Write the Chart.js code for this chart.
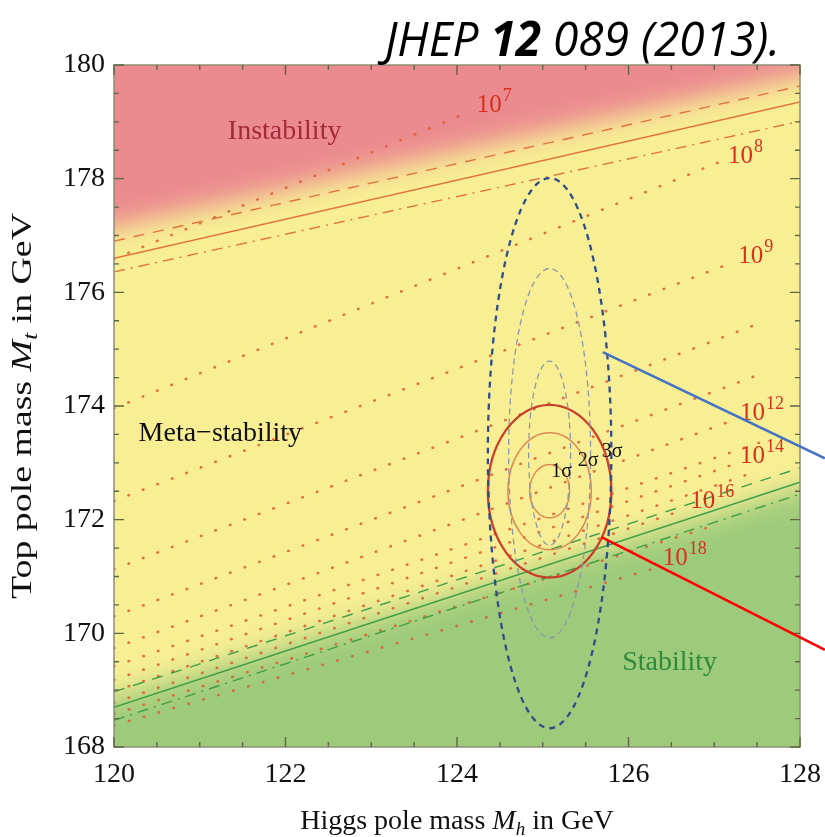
<!DOCTYPE html>
<html>
<head>
<meta charset="utf-8">
<script src="https://cdn.jsdelivr.net/npm/chart.js@4/dist/chart.umd.min.js"></script>
<style>
  html, body { margin: 0; padding: 0; background: #ffffff; }
  #wrap { width: 825px; height: 837px; position: relative; }
</style>
</head>
<body>
<div id="wrap"><canvas id="c" width="825" height="837"></canvas></div>
<script>
// ---- axis ranges and ticks (GeV) ----
const mhRange = [120, 128];
const mtRange = [168, 180];
const mhMajorTicks = [120, 122, 124, 126, 128];
const mtMajorTicks = [168, 170, 172, 174, 176, 178, 180];
const minorStep = 0.5;

// ---- phase boundaries: Mt at Mh = 120 and Mh = 128 ----
const instabCentral = [176.60, 179.35];
const instabUpper   = [176.90, 179.63];
const instabLower   = [176.36, 179.01];
const stabCentral   = [168.70, 172.66];
const stabUpper     = [168.97, 172.91];
const stabLower     = [168.47, 172.45];

// centre of the soft colour transitions
const redEdge   = [177.15, 179.80];
const greenEdge = [168.88, 172.55];

// ---- instability-scale contours, log10(Lambda / GeV) ----
const scaleExp     = [7, 8, 9, 10, 11, 12, 13, 14, 15, 16, 17, 18];
const scaleStartMt = [176.59, 173.96, 172.33, 171.13, 170.30, 169.74, 169.42, 169.18, 168.98, 168.78, 168.58, 168.38];
const scaleEndMh   = [124.12, 127.04, 127.22, 127.57, 127.57, 127.22, 127.57, 127.22, 127.40, 126.64, 126.90, 126.32];
const scaleEndMt   = [179.16, 178.28, 176.53, 175.48, 174.58, 173.75, 173.38, 172.97, 172.80, 172.17, 171.85, 171.15];

// labelled contours
const labelExp = [7, 8, 9, 12, 14, 16, 18];
const labelMh  = [124.23, 127.16, 127.28, 127.30, 127.30, 126.72, 126.40];
const labelMt  = [179.17, 178.28, 176.52, 173.75, 173.00, 172.20, 171.20];

// ---- measurement ellipses ----
const sigmaNames  = ['1σ', '2σ', '3σ'];
const fitMh = 125.08, fitMt = 172.50;
const fitSemiMh = [0.233, 0.486, 0.72];
const fitSemiMt = [0.47, 1.03, 1.52];
const altMt = 173.17;
const altSemiMh = [0.245, 0.478, 0.72];
const altSemiMt = [1.62, 3.25, 4.84];
const sigmaLabelMh = [125.22, 125.53, 125.81];
const sigmaLabelMt = [172.84, 173.03, 173.19];

// ---- region names ----
const regionNames = ['Instability', 'Meta\u2212stability', 'Stability'];
const regionMh = [121.99, 121.24, 126.48];
const regionMt = [178.82, 173.52, 169.48];
const regionColors = ['#a32a3a', '#111111', '#2f8a3c'];

// ---- callout lines (Mh, Mt) ----
const calloutBlue = [[125.70, 174.95], [128.29, 173.08]];
const calloutRed  = [[125.69, 171.69], [128.29, 169.71]];

const COL_RED = '#eb8a8f', COL_YEL = '#f8ef95', COL_GRN = '#9ecb7b';
const SERIF = '"Liberation Serif", "Times New Roman", serif';

function boundary(ys, color, dash) {
  return {
    data: [{ x: mhRange[0], y: ys[0] }, { x: mhRange[1], y: ys[1] }],
    showLine: true, pointRadius: 0, borderColor: color, borderWidth: 1.4,
    borderDash: dash, fill: false
  };
}

const datasets = [
  boundary(instabUpper, '#e0733f', [11, 9]),
  boundary(instabCentral, '#e0733f', []),
  boundary(instabLower, '#e0733f', [11, 6, 2, 6]),
  boundary(stabUpper, '#3f9e45', [11, 9]),
  boundary(stabCentral, '#3f9e45', []),
  boundary(stabLower, '#3f9e45', [11, 6, 2, 6])
];
scaleExp.forEach((e, i) => {
  datasets.push({
    data: [{ x: mhRange[0], y: scaleStartMt[i] }, { x: scaleEndMh[i], y: scaleEndMt[i] }],
    showLine: true, pointRadius: 0, borderColor: 'rgba(222,92,48,0.85)',
    borderWidth: 2.6, borderDash: [0.5, 15], borderCapStyle: 'round', fill: false
  });
});

// soft coloured phase regions
const phaseBackground = {
  id: 'phaseBackground',
  beforeDatasetsDraw(chart) {
    const { ctx, chartArea: a, scales: { x, y } } = chart;
    ctx.save();
    ctx.beginPath();
    ctx.rect(a.left, a.top, a.right - a.left, a.bottom - a.top);
    ctx.clip();
    ctx.fillStyle = COL_YEL;
    ctx.fillRect(a.left, a.top, a.right - a.left, a.bottom - a.top);
    ctx.filter = 'blur(13px)';
    const ext = 1.5;
    const region = (edge, far, color) => {
      const s = (edge[1] - edge[0]) / (mhRange[1] - mhRange[0]);
      ctx.beginPath();
      ctx.moveTo(x.getPixelForValue(mhRange[0] - ext), y.getPixelForValue(edge[0] - s * ext));
      ctx.lineTo(x.getPixelForValue(mhRange[1] + ext), y.getPixelForValue(edge[1] + s * ext));
      ctx.lineTo(x.getPixelForValue(mhRange[1] + ext), y.getPixelForValue(far));
      ctx.lineTo(x.getPixelForValue(mhRange[0] - ext), y.getPixelForValue(far));
      ctx.closePath();
      ctx.fillStyle = color;
      ctx.fill();
    };
    region(redEdge, mtRange[1] + 3, COL_RED);
    region(greenEdge, mtRange[0] - 3, COL_GRN);
    ctx.restore();
  }
};

// ellipses, ticks, frame and all text
const overlay = {
  id: 'overlay',
  afterDatasetsDraw(chart) {
    const { ctx, chartArea: a, scales: { x, y } } = chart;
    const ell = (cx, cy, rx, ry) => {
      const px = x.getPixelForValue(cx), py = y.getPixelForValue(cy);
      const rpx = Math.abs(x.getPixelForValue(cx + rx) - px);
      const rpy = Math.abs(y.getPixelForValue(cy + ry) - py);
      ctx.beginPath();
      ctx.ellipse(px, py, rpx, rpy, 0, 0, Math.PI * 2);
      ctx.stroke();
    };
    ctx.save();
    ctx.beginPath();
    ctx.rect(a.left, a.top, a.right - a.left, a.bottom - a.top);
    ctx.clip();
    // fit ellipses
    for (let i = 0; i < 3; i++) {
      ctx.setLineDash([]);
      ctx.strokeStyle = i === 2 ? '#c8402c' : '#dc8a55';
      ctx.lineWidth = i === 2 ? 2.3 : 1.5;
      ell(fitMh, fitMt, fitSemiMh[i], fitSemiMt[i]);
    }
    // dashed ellipses
    for (let i = 0; i < 3; i++) {
      ctx.strokeStyle = i === 2 ? '#2f4d8c' : '#8e97aa';
      ctx.lineWidth = i === 2 ? 2.3 : 1.3;
      ctx.setLineDash(i === 2 ? [6, 5] : [6, 4]);
      ell(fitMh, altMt, altSemiMh[i], altSemiMt[i]);
    }
    ctx.setLineDash([]);
    // sigma labels
    ctx.fillStyle = '#111';
    ctx.font = '20px ' + SERIF;
    ctx.textAlign = 'center';
    ctx.textBaseline = 'middle';
    sigmaNames.forEach((s, i) => ctx.fillText(s, x.getPixelForValue(sigmaLabelMh[i]), y.getPixelForValue(sigmaLabelMt[i])));
    // region names
    ctx.font = '28px ' + SERIF;
    regionNames.forEach((s, i) => {
      ctx.fillStyle = regionColors[i];
      ctx.fillText(s, x.getPixelForValue(regionMh[i]), y.getPixelForValue(regionMt[i]));
    });
    // contour labels
    ctx.textAlign = 'left';
    ctx.textBaseline = 'alphabetic';
    ctx.fillStyle = '#d8301f';
    labelExp.forEach((e, i) => {
      const px = x.getPixelForValue(labelMh[i]), py = y.getPixelForValue(labelMt[i]);
      ctx.font = '25px ' + SERIF;
      ctx.fillText('10', px, py);
      const w = ctx.measureText('10').width;
      ctx.font = '18px ' + SERIF;
      ctx.fillText(String(e), px + w + 1, py - 11);
    });
    ctx.restore();

    // frame
    ctx.save();
    ctx.strokeStyle = '#8d8f76';
    ctx.lineWidth = 1.5;
    ctx.strokeRect(a.left, a.top, a.right - a.left, a.bottom - a.top);
    // inward ticks on all four sides
    ctx.strokeStyle = '#5f6644';
    ctx.lineWidth = 1.4;
    ctx.beginPath();
    x.ticks.forEach(t => {
      const px = x.getPixelForValue(t.value);
      const len = mhMajorTicks.includes(t.value) ? 10 : 5;
      ctx.moveTo(px, a.bottom); ctx.lineTo(px, a.bottom - len);
      ctx.moveTo(px, a.top); ctx.lineTo(px, a.top + len);
    });
    y.ticks.forEach(t => {
      const py = y.getPixelForValue(t.value);
      const len = mtMajorTicks.includes(t.value) ? 10 : 5;
      ctx.moveTo(a.left, py); ctx.lineTo(a.left + len, py);
      ctx.moveTo(a.right, py); ctx.lineTo(a.right - len, py);
    });
    ctx.stroke();
    ctx.restore();
  },
  afterDraw(chart) {
    const { ctx, chartArea: a, scales: { x, y } } = chart;
    ctx.save();
    // axis titles with italic symbols
    const runs = (parts) => parts.map(p => {
      ctx.font = p.f;
      return Object.assign({ w: ctx.measureText(p.t).width }, p);
    });
    const drawRuns = (rs, x0, base) => {
      let cx = x0;
      rs.forEach(r => { ctx.font = r.f; ctx.fillText(r.t, cx, base + (r.dy || 0)); cx += r.w; });
    };
    ctx.fillStyle = '#111';
    ctx.textAlign = 'left';
    ctx.textBaseline = 'alphabetic';
    const xr = runs([
      { t: 'Higgs pole mass ', f: '28px ' + SERIF },
      { t: 'M', f: 'italic 28px ' + SERIF },
      { t: 'h', f: 'italic 19px ' + SERIF, dy: 6 },
      { t: ' in GeV', f: '28px ' + SERIF }
    ]);
    const xw = xr.reduce((s, r) => s + r.w, 0);
    drawRuns(xr, (a.left + a.right) / 2 - xw / 2, 829);
    const yr = runs([
      { t: 'Top pole mass ', f: '30px ' + SERIF },
      { t: 'M', f: 'italic 30px ' + SERIF },
      { t: 't', f: 'italic 20px ' + SERIF, dy: 6 },
      { t: ' in GeV', f: '30px ' + SERIF }
    ]);
    const yw = yr.reduce((s, r) => s + r.w, 0);
    ctx.save();
    ctx.translate(31, (a.top + a.bottom) / 2);
    ctx.rotate(-Math.PI / 2);
    ctx.scale(386 / yw, 1);
    drawRuns(yr, -yw / 2, 0);
    ctx.restore();

    // reference line at the top
    const tr = runs([
      { t: 'JHEP ', f: 'italic 48px "Open Sans"' },
      { t: '12', f: 'italic bold 48px "Open Sans"' },
      { t: ' 089 (2013).', f: 'italic 48px "Open Sans"' }
    ]);
    const tw = tr.reduce((s, r) => s + r.w, 0);
    ctx.save();
    ctx.translate(385, 56);
    ctx.scale(395 / tw, 1);
    ctx.fillStyle = '#000';
    drawRuns(tr, 0, 0);
    ctx.restore();

    // callout lines
    ctx.lineWidth = 2.5;
    const callout = (pts, color) => {
      ctx.strokeStyle = color;
      ctx.beginPath();
      ctx.moveTo(x.getPixelForValue(pts[0][0]), y.getPixelForValue(pts[0][1]));
      ctx.lineTo(x.getPixelForValue(pts[1][0]), y.getPixelForValue(pts[1][1]));
      ctx.stroke();
    };
    callout(calloutBlue, '#4472c4');
    callout(calloutRed, '#ff0000');
    ctx.restore();
  }
};

new Chart(document.getElementById('c'), {
  type: 'scatter',
  data: { datasets },
  options: {
    responsive: false,
    animation: false,
    events: [],
    layout: { padding: { left: 0, right: 25, top: 65, bottom: 0 } },
    plugins: { legend: { display: false }, tooltip: { enabled: false } },
    scales: {
      x: {
        type: 'linear', min: mhRange[0], max: mhRange[1],
        grid: { display: false, drawTicks: false },
        border: { display: false },
        ticks: {
          stepSize: minorStep, autoSkip: false, maxRotation: 0, padding: 11,
          color: '#111', font: { family: SERIF, size: 28 },
          callback: v => mhMajorTicks.includes(v) ? String(v) : ''
        },
        afterFit: s => { s.height = 90; s.paddingLeft = 0; s.paddingRight = 0; }
      },
      y: {
        type: 'linear', min: mtRange[0], max: mtRange[1],
        grid: { display: false, drawTicks: false },
        border: { display: false },
        ticks: {
          stepSize: minorStep, autoSkip: false, padding: 9,
          color: '#111', font: { family: SERIF, size: 28 },
          callback: v => mtMajorTicks.includes(v) ? String(v) : ''
        },
        afterFit: s => { s.width = 114; s.paddingTop = 0; s.paddingBottom = 0; }
      }
    }
  },
  plugins: [phaseBackground, overlay]
});
</script>
</body>
</html>
